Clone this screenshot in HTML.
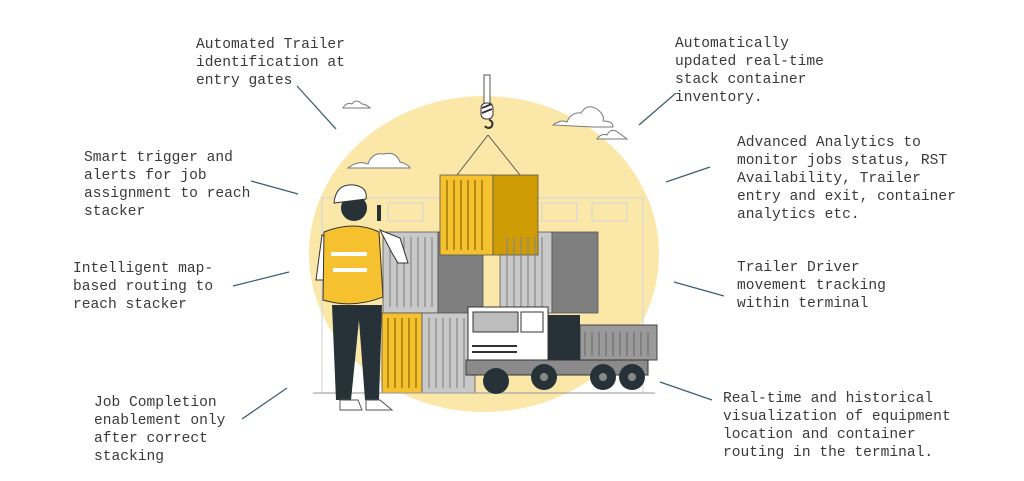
<!DOCTYPE html>
<html><head><meta charset="utf-8"><style>
html,body{margin:0;padding:0;background:#fff;}
svg{display:block}
text{font-family:"Liberation Mono",monospace;font-size:14.6px;fill:#3a3a3a;}
</style></head><body>
<svg width="1024" height="481" viewBox="0 0 1024 481" xmlns="http://www.w3.org/2000/svg">
<!-- blob -->
<ellipse cx="484" cy="254" rx="175" ry="158" fill="#fbe8a8"/>
<!-- building outline -->
<g fill="none" stroke="#d8d8d8" stroke-width="1.2">
<rect x="322" y="198" width="321" height="195"/>
<rect x="388" y="203" width="35" height="18"/><rect x="542" y="203" width="35" height="18"/><rect x="592" y="203" width="35" height="18"/>
</g>
<!-- clouds -->
<g fill="#fff" stroke="#777" stroke-width="1">
<path d="M343 108 q3-6 9-4 q4-6 10 0 q4 0 8 4 z"/>
<path d="M553 125 q8-6 14-3 q4-10 14-9 q6-10 16-4 q8 6 6 12 q10 0 10 6 h-20 z"/>
<path d="M597 139 q4-6 10-4 q4-8 12-2 q4 3 8 6 z"/>
<path d="M348 168 q10-8 20-4 q4-12 16-10 q12-3 16 8 q8 2 10 6 z"/>
</g>
<!-- hook -->
<rect x="484" y="75" width="6" height="28" fill="#fff" stroke="#555"/>
<rect x="481" y="103" width="12" height="16" rx="5" fill="#fff" stroke="#333"/>
<path d="M482 108 l10-4 M482 113 l10-4" stroke="#333" stroke-width="2"/>
<path d="M489 120 a4 4 0 1 1 -4 6" fill="none" stroke="#333" stroke-width="2"/>
<path d="M488 135 L457 175 M488 135 L520 175" stroke="#555" stroke-width="1"/>
<!-- containers -->
<g stroke="#555" stroke-width="0.8">
<rect x="383" y="232" width="55" height="81" fill="#c9c9c9"/>
<rect x="438" y="232" width="45" height="81" fill="#7f7f7f"/>
<rect x="500" y="232" width="52" height="81" fill="#c9c9c9"/>
<rect x="552" y="232" width="46" height="81" fill="#7f7f7f"/>
<rect x="440" y="175" width="53" height="80" fill="#f5c12e"/>
<rect x="493" y="175" width="45" height="80" fill="#d09c06"/>
<rect x="382" y="313" width="40" height="80" fill="#f5c12e"/>
<rect x="422" y="313" width="53" height="80" fill="#c9c9c9"/>
</g>
<g stroke="#8a6a00" stroke-width="1.2">
<path d="M447 180v70M454 180v70M461 180v70M468 180v70M475 180v70M482 180v70M388 318v70M395 318v70M402 318v70M409 318v70M416 318v70"/>
</g>
<g stroke="#888" stroke-width="1.2">
<path d="M390 237v70M397 237v70M404 237v70M411 237v70M418 237v70M425 237v70M432 237v70M507 237v70M514 237v70M521 237v70M528 237v70M535 237v70M542 237v70M429 318v70M436 318v70M443 318v70M450 318v70M457 318v70M464 318v70"/>
</g>
<!-- ground -->
<line x1="313" y1="393" x2="655" y2="393" stroke="#999" stroke-width="1"/>
<!-- truck -->
<rect x="580" y="325" width="77" height="35" fill="#9a9a9a" stroke="#444"/>
<path d="M585 332v24M592 332v24M599 332v24M606 332v24M613 332v24M620 332v24M627 332v24M634 332v24M641 332v24M648 332v24" stroke="#666"/>
<rect x="548" y="315" width="32" height="60" fill="#263238"/>
<rect x="468" y="307" width="80" height="55" fill="#fff" stroke="#333"/>
<rect x="473" y="312" width="45" height="20" fill="#bdbdbd" stroke="#333"/>
<rect x="521" y="312" width="22" height="20" fill="#fff" stroke="#333"/>
<path d="M472 346h45M472 352h45" stroke="#333" stroke-width="2"/>
<rect x="466" y="360" width="182" height="15" fill="#8a8a8a" stroke="#333"/>
<g fill="#263238"><circle cx="496" cy="381" r="13"/><circle cx="544" cy="377" r="13"/><circle cx="603" cy="377" r="13"/><circle cx="632" cy="377" r="13"/></g>
<g fill="#888"><circle cx="544" cy="377" r="4"/><circle cx="603" cy="377" r="4"/><circle cx="632" cy="377" r="4"/></g>
<!-- worker -->
<path d="M332 305 h50 l-3 95 h-14 l-6-80 -8 80 h-15 z" fill="#263238"/>
<path d="M340 400 h18 l4 10 h-22 z M366 400 h14 l12 10 h-26z" fill="#fff" stroke="#555"/>
<path d="M322 235 l-6 45 h10 l4-40 z" fill="#fff" stroke="#333"/>
<path d="M380 230 l20 8 l8 25 h-10 l-6-10 z" fill="#fff" stroke="#333"/>
<path d="M324 232 q30-12 55 0 l4 65 q-30 12 -60 3 z" fill="#f5c12e" stroke="#333"/>
<rect x="331" y="252" width="36" height="4" fill="#fff"/><rect x="333" y="268" width="34" height="4" fill="#fff"/>
<circle cx="354" cy="208" r="13" fill="#263238"/>
<path d="M334 203 q2-20 20-18 q14 2 12 14 z" fill="#fff" stroke="#333"/>
<rect x="377" y="205" width="4" height="16" fill="#263238"/>
<!-- connectors -->
<g stroke="#3f5f6e" stroke-width="1.3">
<line x1="297" y1="86" x2="336" y2="129"/>
<line x1="251" y1="181" x2="298" y2="194"/>
<line x1="233" y1="286" x2="289" y2="272"/>
<line x1="242" y1="419" x2="287" y2="388"/>
<line x1="639" y1="125" x2="676" y2="93"/>
<line x1="666" y1="182" x2="710" y2="167"/>
<line x1="674" y1="282" x2="724" y2="296"/>
<line x1="660" y1="382" x2="712" y2="400"/>
</g>
<!-- labels -->
<text x="196" y="48">Automated Trailer</text>
<text x="196" y="66">identification at</text>
<text x="196" y="84">entry gates</text>
<text x="84" y="161">Smart trigger and</text>
<text x="84" y="179">alerts for job</text>
<text x="84" y="197">assignment to reach</text>
<text x="84" y="215">stacker</text>
<text x="73" y="272">Intelligent map-</text>
<text x="73" y="290">based routing to</text>
<text x="73" y="308">reach stacker</text>
<text x="94" y="406">Job Completion</text>
<text x="94" y="424">enablement only</text>
<text x="94" y="442">after correct</text>
<text x="94" y="460">stacking</text>
<text x="675" y="47">Automatically</text>
<text x="675" y="65">updated real-time</text>
<text x="675" y="83">stack container</text>
<text x="675" y="101">inventory.</text>
<text x="737" y="146">Advanced Analytics to</text>
<text x="737" y="164">monitor jobs status, RST</text>
<text x="737" y="182">Availability, Trailer</text>
<text x="737" y="200">entry and exit, container</text>
<text x="737" y="218">analytics etc.</text>
<text x="737" y="271">Trailer Driver</text>
<text x="737" y="289">movement tracking</text>
<text x="737" y="307">within terminal</text>
<text x="723" y="402">Real-time and historical</text>
<text x="723" y="420">visualization of equipment</text>
<text x="723" y="438">location and container</text>
<text x="723" y="456">routing in the terminal.</text>
</svg>
</body></html>
